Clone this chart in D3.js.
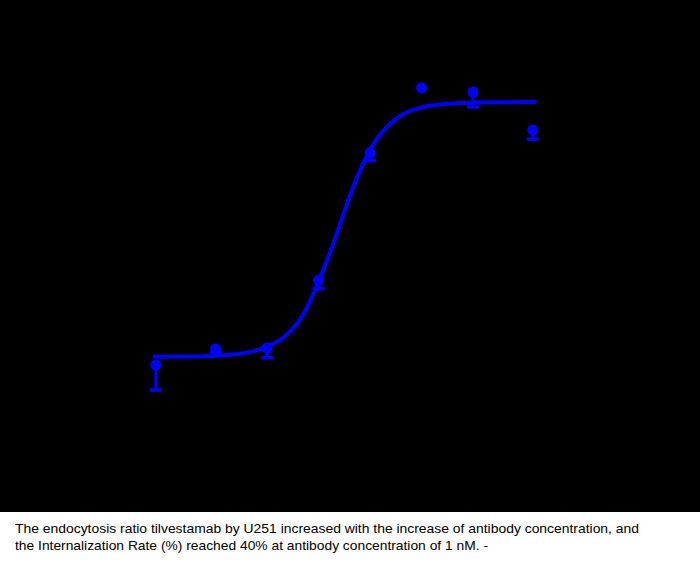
<!DOCTYPE html>
<html>
<head>
<meta charset="utf-8">
<script src="https://cdn.jsdelivr.net/npm/d3@7"></script>
<style>
  html, body { margin: 0; padding: 0; background: #fff; }
  svg { display: block; }
</style>
</head>
<body>
<svg id="chart" width="700" height="562"></svg>
<script>
// Antibody concentration (nM)
const concentrations = [0.003125, 0.015625, 0.0625, 0.25, 1, 4, 16, 80];
// Internalization Rate (%) mean
const meanValues = [8.15, 10.6, 10.77, 21.2, 40.8, 50.8, 50.15, 44.3];
// error (drawn below the mean)
const errValues = [3.85, 0.6, 1.5, 1.3, 1.2, 0, 2.3, 1.4];

// fitted curve
const curveConc = [0.003, 0.01, 0.03, 0.06, 0.1, 0.16, 0.25, 0.4, 0.63, 1, 1.6, 2.5, 4, 8, 16, 32, 85];
const curveValues = [9.41, 9.47, 9.87, 10.9, 12.5, 15.6, 20.9, 28.0, 35.4, 41.2, 44.85, 46.8, 47.75, 48.33, 48.52, 48.57, 48.6];

const captionLines = [
  "The endocytosis ratio tilvestamab by U251 increased with the increase of antibody concentration, and",
  "the Internalization Rate (%) reached 40% at antibody concentration of 1 nM. -"
];

const svg = d3.select("#chart");
const W = 700, H = 562, plotH = 512;
const blue = "#0000ff";

svg.append("rect").attr("x", 0).attr("y", 0).attr("width", W).attr("height", plotH).attr("fill", "#000");
svg.append("rect").attr("x", 0).attr("y", plotH).attr("width", W).attr("height", H - plotH).attr("fill", "#fff");

const x = d3.scaleLog().domain([0.001, 100]).range([113.5, 541]);
const y = d3.scaleLinear().domain([0, 60]).range([418, 28]);

const g = svg.append("g");

// curve
const line = d3.line()
  .x((d, i) => x(curveConc[i]))
  .y((d) => y(d))
  .curve(d3.curveMonotoneX);
g.append("path")
  .datum(curveValues)
  .attr("d", line)
  .attr("fill", "none")
  .attr("stroke", blue)
  .attr("stroke-width", 4)
  .attr("stroke-linecap", "round");

const pts = concentrations.map((c, i) => ({ c, m: meanValues[i], e: errValues[i] }));

// error bars (lower)
const eb = g.selectAll(".eb").data(pts.filter(d => d.e > 0)).join("g").attr("class", "eb");
eb.append("line")
  .attr("x1", d => x(d.c)).attr("x2", d => x(d.c))
  .attr("y1", d => y(d.m)).attr("y2", d => y(d.m - d.e))
  .attr("stroke", blue).attr("stroke-width", 3);
eb.append("line")
  .attr("x1", d => x(d.c) - 6).attr("x2", d => x(d.c) + 6)
  .attr("y1", d => y(d.m - d.e)).attr("y2", d => y(d.m - d.e))
  .attr("stroke", blue).attr("stroke-width", 3.5);

// markers
g.selectAll(".pt").data(pts).join("circle")
  .attr("class", "pt")
  .attr("cx", d => x(d.c))
  .attr("cy", d => y(d.m))
  .attr("r", 5.5)
  .attr("fill", blue);

// caption
const capLens = [624, 473];
svg.selectAll(".cap").data(captionLines).join("text")
  .attr("class", "cap")
  .attr("x", 15)
  .attr("y", (d, i) => 533 + i * 17)
  .attr("font-family", "'Liberation Sans', Arial, sans-serif")
  .attr("font-size", "13px")
  .attr("fill", "#000")
  .attr("textLength", (d, i) => capLens[i])
  .attr("lengthAdjust", "spacingAndGlyphs")
  .text(d => d);
</script>
</body>
</html>
